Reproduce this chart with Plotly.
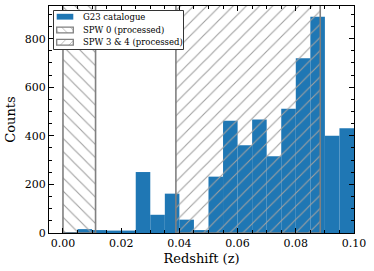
import plotly.graph_objects as go

bin_edges = [0.000, 0.005, 0.010, 0.015, 0.020, 0.025, 0.030, 0.035, 0.040, 0.045,
             0.050, 0.055, 0.060, 0.065, 0.070, 0.075, 0.080, 0.085, 0.090, 0.095, 0.100]
counts = [3, 16, 12, 10, 10, 251, 75, 162, 55, 12,
          232, 462, 361, 467, 316, 512, 719, 890, 400, 431]
spw0 = (0.0, 0.0112)
spw34 = (0.0388, 0.0884)
span_top = 1100
x_ticks = [0.00, 0.02, 0.04, 0.06, 0.08, 0.10]
y_ticks = [0, 200, 400, 600, 800]
legend_labels = ["G23 catalogue", "SPW 0 (processed)", "SPW 3 & 4 (processed)"]

centers = [(a + b) / 2 for a, b in zip(bin_edges[:-1], bin_edges[1:])]
widths = [b - a for a, b in zip(bin_edges[:-1], bin_edges[1:])]

FONT = "DejaVu Serif"
BLUE = "#1f77b4"
EDGE = "#808080"
HATCH = "#a0a0a0"

# figure geometry (px)
W, H = 374, 271
ML, MR, MT, MB = 49, 20, 6, 38
PW, PH = W - ML - MR, H - MT - MB

fig = go.Figure()
fig.add_trace(go.Bar(x=centers, y=counts, width=widths, name=legend_labels[0],
                     marker=dict(color=BLUE, line=dict(width=0)), showlegend=False))


def hatch_marker(shape, size, lw):
    return dict(color="rgba(0,0,0,0)", line=dict(color=EDGE, width=lw),
                pattern=dict(shape=shape, fgcolor=HATCH, bgcolor="rgba(0,0,0,0)",
                             size=size, solidity=0.12, fillmode="replace"))


for (lo, hi), shp, nm in [(spw0, "\\", legend_labels[1]), (spw34, "/", legend_labels[2])]:
    fig.add_trace(go.Bar(x=[(lo + hi) / 2], y=[span_top], width=[hi - lo], base=[0],
                         name=nm, marker=hatch_marker(shp, 9.3, 1.6), showlegend=False))

# ---- legend drawn in an inset axes (pixel units) ----
LX0, LX1, LY0, LY1 = 53, 184, 10, 50  # legend box in figure px
lw_px, lh_px = LX1 - LX0, LY1 - LY0
leg_dom_x = [(LX0 - ML) / PW, (LX1 - ML) / PW]
leg_dom_y = [1 - (LY1 - MT) / PH, 1 - (LY0 - MT) / PH]

# box
fig.add_trace(go.Bar(x=[lw_px / 2], y=[lh_px - 1], base=[0.5], width=[lw_px - 1],
                     xaxis="x2", yaxis="y2", showlegend=False, hoverinfo="skip",
                     marker=dict(color="white", line=dict(color="#333333", width=1))))
row_centers = [lh_px - 6.7, lh_px - 20, lh_px - 32.3]
sym_x0, sym_x1, sym_h = 3.7, 20.3, 5.8
sym_markers = [dict(color=BLUE, line=dict(width=0)),
               hatch_marker("\\", 6, 1.3),
               hatch_marker("/", 6, 1.3)]
for yc, mk, lab in zip(row_centers, sym_markers, legend_labels):
    fig.add_trace(go.Bar(x=[(sym_x0 + sym_x1) / 2], y=[sym_h], base=[yc - sym_h / 2],
                         width=[sym_x1 - sym_x0], xaxis="x2", yaxis="y2",
                         showlegend=False, hoverinfo="skip", marker=mk))
    fig.add_annotation(x=27.5, y=yc, xref="x2", yref="y2", text=lab, showarrow=False,
                       xanchor="left", yanchor="middle",
                       font=dict(family=FONT, size=8.5, color="black"))

axis_common = dict(showline=True, linecolor="black", linewidth=1.3, mirror="allticks",
                   ticks="inside", ticklen=4.5, tickwidth=1, tickcolor="black",
                   showgrid=False, zeroline=False, automargin=False,
                   tickfont=dict(family=FONT, size=11, color="black"))

fig.update_layout(
    width=W, height=H,
    margin=dict(l=ML, r=MR, t=MT, b=MB),
    barmode="overlay",
    plot_bgcolor="white", paper_bgcolor="white",
    font=dict(family=FONT, color="black"),
    showlegend=False,
    hovermode=False,
    xaxis=dict(range=[-0.0048, 0.1], tickvals=x_ticks, tickformat=".2f",
               minor=dict(dtick=0.005, ticks="inside", ticklen=2.5, tickcolor="black"),
               title=dict(text="Redshift (z)", font=dict(size=13), standoff=4),
               **axis_common),
    yaxis=dict(range=[0, 934.5], tickvals=y_ticks,
               minor=dict(dtick=50, ticks="inside", ticklen=2.5, tickcolor="black"),
               title=dict(text="Counts", font=dict(size=13), standoff=6),
               **axis_common),
    xaxis2=dict(domain=leg_dom_x, range=[0, lw_px], anchor="y2", visible=False,
                fixedrange=True),
    yaxis2=dict(domain=leg_dom_y, range=[0, lh_px], anchor="x2", visible=False,
                fixedrange=True),
)

fig.write_html("out.html", config={"displayModeBar": False},
               post_script="document.body.style.margin='0px';")
